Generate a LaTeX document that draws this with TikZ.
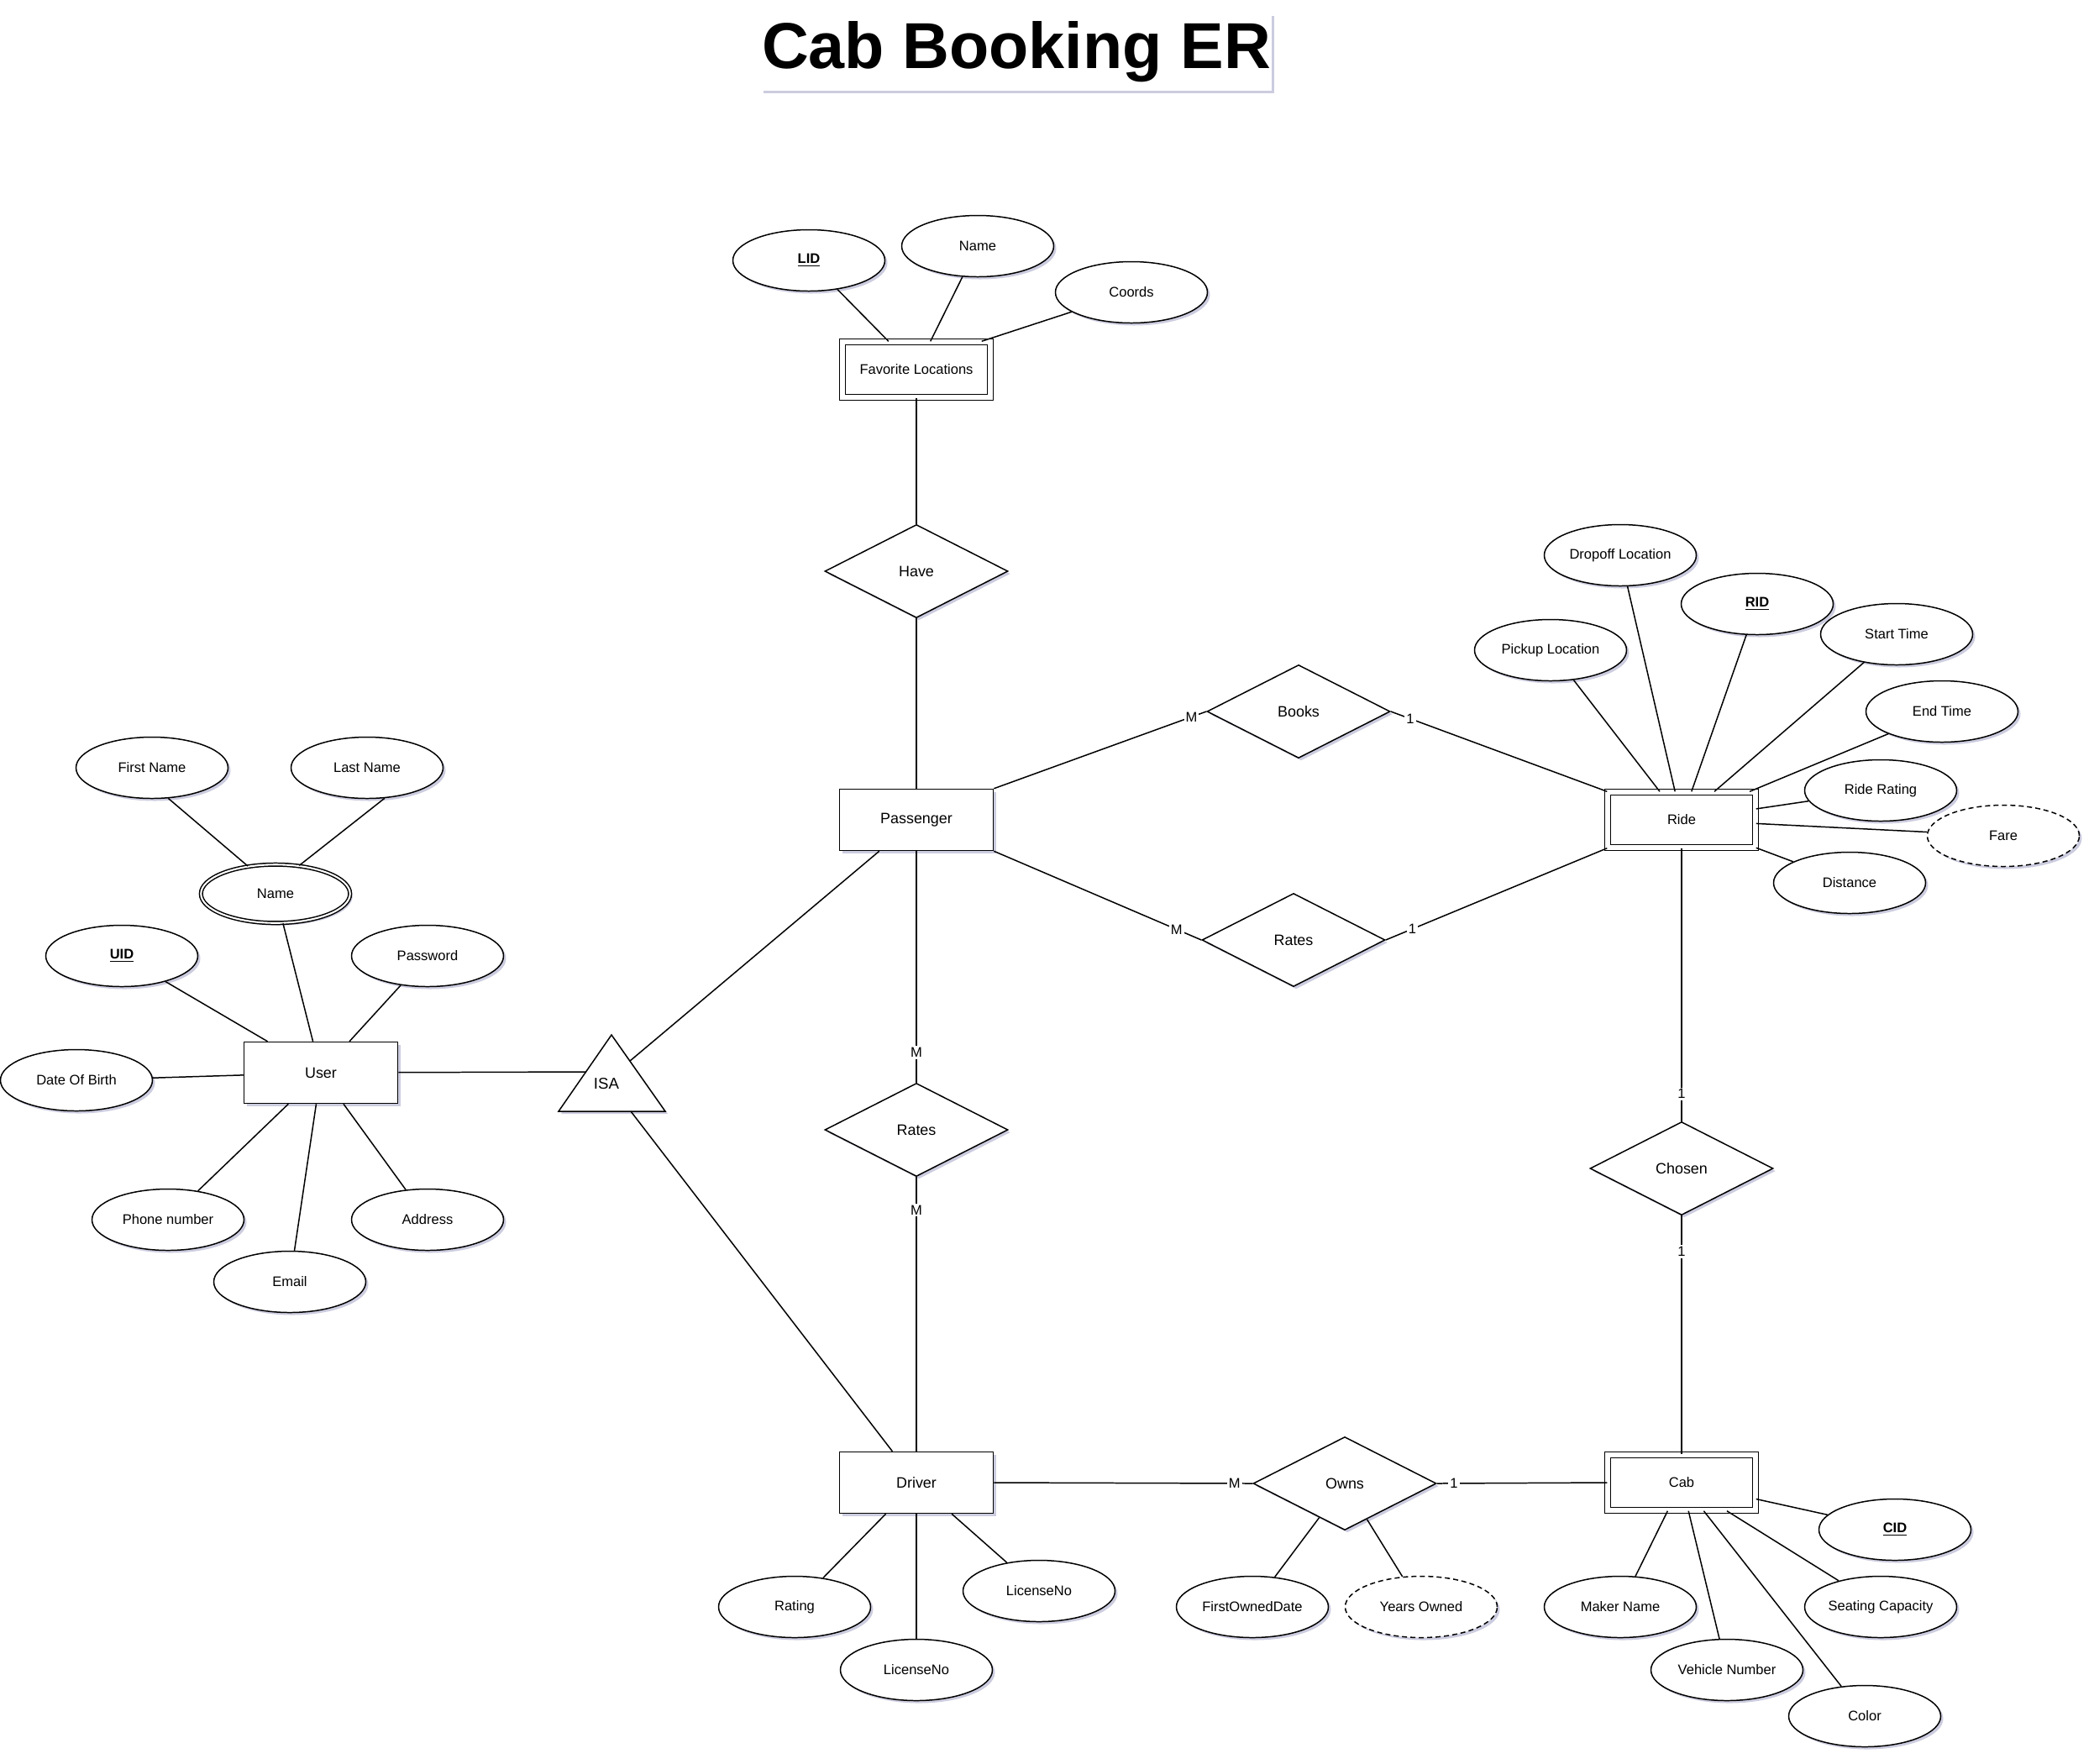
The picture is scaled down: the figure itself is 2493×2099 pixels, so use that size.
\documentclass[tikz,border=0pt]{standalone}
\usepackage{fontspec}
\setmainfont{Liberation Sans}
\usetikzlibrary{shapes.geometric, shadows}

\begin{document}
\begin{tikzpicture}[x = 0.2mm, y = -0.2mm, line width = 0.85pt,
	shadowed/.style = {drop shadow = {shadow xshift = 0.6mm, shadow yshift = -0.6mm, opacity = 0.2, fill = blue!40!black}},
	entity/.style = {draw, fill = white, shadowed, rectangle, minimum width = 36.6mm, minimum height = 14.6mm, font = \fontsize{10.2}{12}\selectfont},
	weak/.style = {draw, fill = white, shadowed, rectangle, double, double distance = 1.1mm, minimum width = 35.2mm, minimum height = 13.2mm, font = \fontsize{9.4}{11}\selectfont},
	attr/.style = {draw, fill = white, shadowed, ellipse, inner sep = 0pt, minimum width = 36.2mm, minimum height = 14.6mm, font = \fontsize{9.4}{11}\selectfont},
	multi/.style = {attr, double, double distance = 0.42mm, minimum width = 35.5mm, minimum height = 13.9mm},
	derived/.style = {attr, dash pattern = on 1.2mm off 0.8mm},
	rel/.style = {draw, fill = white, shadowed, diamond, inner sep = 0pt, minimum width = 43.6mm, minimum height = 22.2mm, font = \fontsize{10.2}{12}\selectfont},
	card/.style = {fill = white, inner sep = 0.4mm, font = \fontsize{9.4}{11}\selectfont}
	]
	
	% Page
	\fill [white] (0,0) rectangle (2493,2099);
	\useasboundingbox (0,0) rectangle (2493,2099);
	
	%% TITLE
	\node [fill = white, shadowed, inner xsep = 0.3mm, minimum height = 18.4mm, font = \bfseries\fontsize{44}{50}\selectfont] (title) at (1210,62) {Cab Booking ER};
	
	
	
	%% ENTITIES
	\node [weak]   (favloc)    at (1091,440)  {Favorite Locations};
	\node [entity] (passenger) at (1091,976)  {Passenger};
	\node [entity] (driver)    at (1091,1765) {Driver};
	\node [weak]   (ride)      at (2002,976)  {Ride};
	\node [weak]   (cab)       at (2002,1765) {Cab};
	\node [entity] (user)      at (382,1277)  {User};
	
	
	
	%% RELATIONSHIPS
	\node [rel] (have)        at (1091,680)  {Have};
	\node [rel] (books)       at (1546,847)  {Books};
	\node [rel] (ratesride)   at (1540,1119) {Rates};
	\node [rel] (ratesdriver) at (1091,1345) {Rates};
	\node [rel] (chosen)      at (2002,1391) {Chosen};
	\node [rel] (owns)        at (1601,1766) {Owns};
	
	% ISA triangle
	\draw [fill = white, shadowed] (728,1232) -- (792,1323) -- (665,1323) -- cycle;
	\node [font = \fontsize{10.6}{12}\selectfont] (isa) at (722,1290) {ISA};
	\coordinate (isaw)  at (698,1276);
	\coordinate (isane) at (750,1263);
	\coordinate (isas)  at (751,1323);
	
	
	
	%% ATTRIBUTES
	
	% Favorite Locations
	\node [attr] (lid)     at (963,310)  {\underline{\textbf{LID}}};
	\node [attr] (locname) at (1164,293) {Name};
	\node [attr] (coords)  at (1347,348) {Coords};
	
	% Ride
	\node [attr]    (dropoff) at (1929,661)  {Dropoff Location};
	\node [attr]    (rid)     at (2092,719)  {\underline{\textbf{RID}}};
	\node [attr]    (pickup)  at (1846,774)  {Pickup Location};
	\node [attr]    (start)   at (2258,755)  {Start Time};
	\node [attr]    (endtime) at (2312,847)  {End Time};
	\node [attr]    (rrating) at (2239,941)  {Ride Rating};
	\node [derived] (fare)    at (2385,995)  {Fare};
	\node [attr]    (dist)    at (2202,1051) {Distance};
	
	% Cab
	\node [attr] (cid)     at (2256,1821) {\underline{\textbf{CID}}};
	\node [attr] (maker)   at (1929,1913) {Maker Name};
	\node [attr] (seats)   at (2239,1913) {Seating Capacity};
	\node [attr] (vnumber) at (2056,1988) {Vehicle Number};
	\node [attr] (color)   at (2220,2043) {Color};
	
	% Owns
	\node [attr]    (firstowned) at (1491,1913) {FirstOwnedDate};
	\node [derived] (yearsowned) at (1692,1913) {Years Owned};
	
	% Driver
	\node [attr] (drating) at (946,1913)  {Rating};
	\node [attr] (licone)  at (1237,1894) {LicenseNo};
	\node [attr] (lictwo)  at (1091,1988) {LicenseNo};
	
	% User
	\node [attr]  (first)   at (181,914)  {First Name};
	\node [attr]  (last)    at (437,914)  {Last Name};
	\node [multi] (uname)   at (328,1064) {Name};
	\node [attr]  (uid)     at (145,1138) {\underline{\textbf{UID}}};
	\node [attr]  (pass)    at (509,1138) {Password};
	\node [attr]  (dob)     at (91,1286)  {Date Of Birth};
	\node [attr]  (phone)   at (200,1452) {Phone number};
	\node [attr]  (address) at (509,1452) {Address};
	\node [attr]  (email)   at (345,1526) {Email};
	
	
	
	%% CONNECTORS
	
	% Attribute lines
	\foreach \a in {lid, locname}
	{
		\draw (favloc) -- (\a);
	}
	\draw ([xshift = -2.2mm]favloc.north east) -- (coords);
	\foreach \a in {dropoff, rid, pickup, start, endtime, rrating, fare, dist}
	{
		\draw (ride) -- (\a);
	}
	\foreach \a in {cid, maker, seats, vnumber, color}
	{
		\draw (cab) -- (\a);
	}
	\foreach \a in {firstowned, yearsowned}
	{
		\draw (owns) -- (\a);
	}
	\foreach \a in {drating, licone, lictwo}
	{
		\draw (driver) -- (\a);
	}
	\foreach \a in {uname, uid, pass, dob, phone, address, email}
	{
		\draw (user) -- (\a);
	}
	\draw (uname.135) -- (first.-62);
	\draw (uname.50)  -- (last.-60);
	
	% Relationship lines
	\draw (favloc) -- (have);
	\draw (have) -- (passenger);
	\draw (passenger.north east) -- (books.west)        node [card, pos = 0.93] {M};
	\draw (books.east)           -- (ride.north west)   node [card, pos = 0.09] {1};
	\draw (passenger.south east) -- (ratesride.west)    node [card, pos = 0.88] {M};
	\draw (ratesride.east)       -- (ride.south west)   node [card, pos = 0.12] {1};
	\draw (passenger.south)      -- (ratesdriver.north) node [card, pos = 0.87] {M};
	\draw (ratesdriver.south)    -- (driver.north)      node [card, pos = 0.12] {M};
	\draw (ride.south)           -- (chosen.north)      node [card, pos = 0.9]  {1};
	\draw (chosen.south)         -- (cab.north)         node [card, pos = 0.15] {1};
	\draw (driver.east)          -- (owns.west)         node [card, pos = 0.93] {M};
	\draw (owns.east)            -- (cab.west)          node [card, pos = 0.1]  {1};
	
	% ISA lines
	\draw (user) -- (isaw);
	\draw (passenger) -- (isane);
	\draw (driver) -- (isas);
	
\end{tikzpicture}
\end{document}
